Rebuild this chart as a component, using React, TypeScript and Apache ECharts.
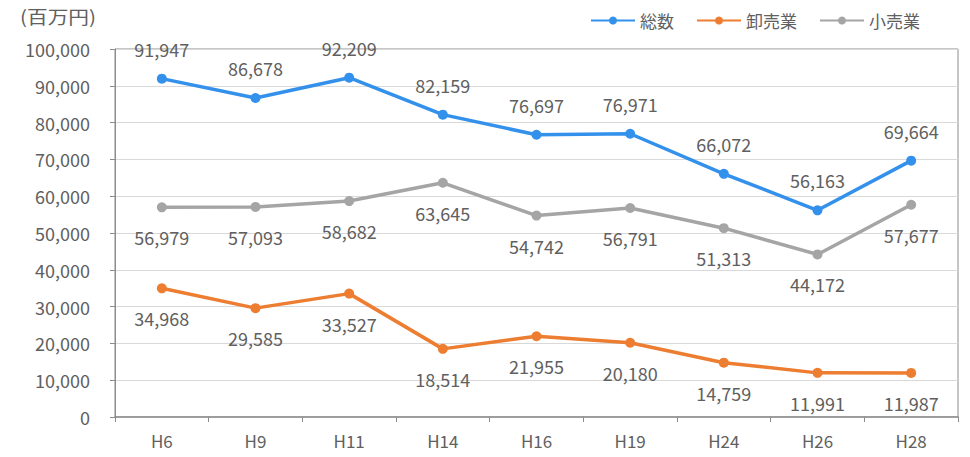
import React, { useEffect, useRef } from "react";
import * as echarts from "echarts";

const categories = ["H6", "H9", "H11", "H14", "H16", "H19", "H24", "H26", "H28"];
const totalValues = [91947, 86678, 92209, 82159, 76697, 76971, 66072, 56163, 69664];
const wholesaleValues = [34968, 29585, 33527, 18514, 21955, 20180, 14759, 11991, 11987];
const retailValues = [56979, 57093, 58682, 63645, 54742, 56791, 51313, 44172, 57677];
const seriesNames = ["総数", "卸売業", "小売業"];
const unitLabel = "(百万円)";

const FONT = "'Noto Sans CJK JP', 'Noto Sans', sans-serif";
const TEXT = "#606060";

export default function App() {
  const ref = useRef<HTMLDivElement>(null);
  useEffect(() => {
    if (!ref.current) return;
    const chart = echarts.init(ref.current, null, { renderer: "svg" });
    const fmt = (v: number) => v.toLocaleString("en-US");
    const mk = (name: string, data: number[], color: string, pos: string) => ({
      name,
      type: "line",
      data,
      symbol: "circle",
      symbolSize: 10,
      lineStyle: { color, width: 3.5 },
      itemStyle: { color },
      label: {
        show: true,
        position: pos,
        distance: 16,
        color: TEXT,
        fontSize: 18,
        fontFamily: FONT,
        formatter: (p: any) => fmt(p.value),
      },
    });
    chart.setOption({
      animation: false,
      textStyle: { fontFamily: FONT },
      graphic: [
        {
          type: "text",
          x: 20,
          y: 8,
          scaleX: 1.15,
          style: { text: unitLabel, fontSize: 18, fill: TEXT, fontFamily: FONT },
        },
      ],
      legend: {
        right: 45,
        top: 8,
        padding: [4, 5],
        itemWidth: 44,
        itemHeight: 10,
        itemGap: 22,
        textStyle: { color: TEXT, fontSize: 17, fontFamily: FONT },
        data: seriesNames,
      },
      grid: {
        left: 115,
        right: 12,
        top: 49,
        bottom: 40,
        show: true,
        borderColor: "#8c8c8c",
        borderWidth: 1,
      },
      xAxis: {
        type: "category",
        data: categories,
        boundaryGap: true,
        axisLine: { lineStyle: { color: "#8c8c8c", width: 1.5 } },
        axisTick: { show: true, length: 5, lineStyle: { color: "#8c8c8c" } },
        axisLabel: { color: TEXT, fontSize: 17, fontFamily: FONT, margin: 15 },
      },
      yAxis: {
        type: "value",
        min: 0,
        max: 100000,
        interval: 10000,
        axisLine: { show: true, lineStyle: { color: "#8c8c8c" } },
        axisTick: { show: true, length: 5, inside: false, lineStyle: { color: "#8c8c8c" } },
        splitLine: { lineStyle: { color: "#d9d9d9" } },
        axisLabel: {
          color: TEXT,
          fontSize: 18,
          fontFamily: FONT,
          margin: 25,
          formatter: (v: number) => fmt(v),
        },
      },
      series: [
        mk(seriesNames[0], totalValues, "#3391EC", "top"),
        mk(seriesNames[1], wholesaleValues, "#ED7D31", "bottom"),
        mk(seriesNames[2], retailValues, "#A5A5A5", "bottom"),
      ],
    });
    return () => chart.dispose();
  }, []);
  return (
    <div
      ref={ref}
      style={{ position: "absolute", left: 0, top: 0, width: 970, height: 457 }}
    />
  );
}
